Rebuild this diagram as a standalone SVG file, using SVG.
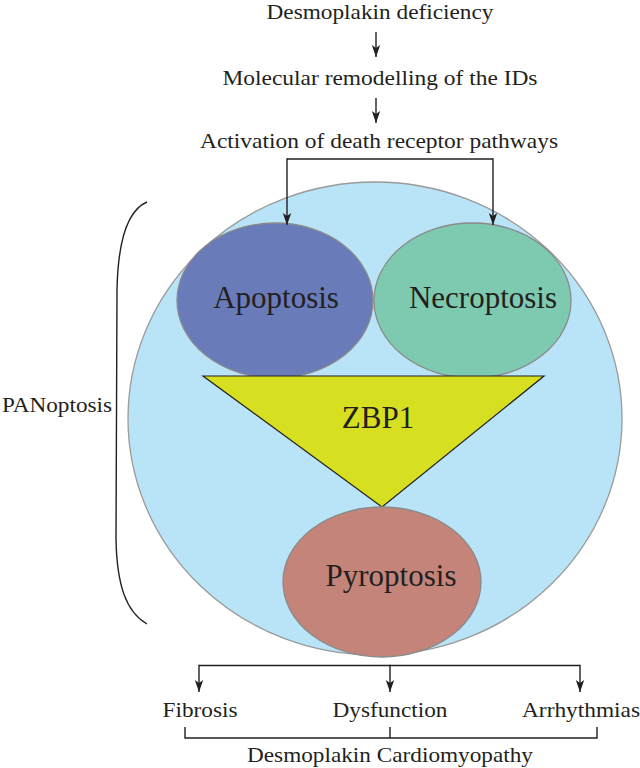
<svg xmlns="http://www.w3.org/2000/svg" width="640" height="768" viewBox="0 0 640 768">
<defs>
<style>
text{font-family:'Liberation Serif','Times New Roman','DejaVu Serif',Times,serif;fill:#231f20;text-anchor:middle}
.s{font-size:22px}
.b{font-size:31px}
.ln{fill:none;stroke:#231f20;stroke-width:1.4}
</style>
<marker id="ah" markerUnits="userSpaceOnUse" markerWidth="14" markerHeight="10" viewBox="-13 -5 14 10" refX="0" refY="0" orient="auto">
<path d="M0,0 L-12,-4.2 L-9,0 L-12,4.2 Z" fill="#231f20"/>
</marker>
</defs>
<rect width="640" height="768" fill="#ffffff"/>

<g id="top-texts">
<text class="s" x="380" y="19" textLength="227" lengthAdjust="spacingAndGlyphs">Desmoplakin deficiency</text>
<text class="s" x="380" y="85" textLength="315" lengthAdjust="spacingAndGlyphs">Molecular remodelling of the IDs</text>
<text class="s" x="379" y="148" textLength="358" lengthAdjust="spacingAndGlyphs">Activation of death receptor pathways</text>
</g>

<g id="panoptosis-bracket">
<path class="ln" d="M147,202 C128,210 118,240 117,290 L116,540 C117,585 126,612 147,624"/>
<text class="s" x="57" y="412" textLength="110" lengthAdjust="spacingAndGlyphs">PANoptosis</text>
</g>

<g id="panoptosis-circle">
<ellipse cx="375" cy="418.5" rx="247" ry="236.5" fill="#b9e4f8" stroke="#9a9a9a" stroke-width="1.3"/>
</g>

<g id="apoptosis">
<ellipse cx="275" cy="300.5" rx="98" ry="77.5" fill="#6a7bba" stroke="#8a8a8a" stroke-width="1.3"/>
<text class="b" x="276" y="308">Apoptosis</text>
</g>

<g id="necroptosis">
<ellipse cx="472.5" cy="300.5" rx="98.5" ry="77.5" fill="#7ecab0" stroke="#8a8a8a" stroke-width="1.3"/>
<text class="b" x="483" y="308">Necroptosis</text>
</g>

<g id="zbp1">
<polygon points="203,376 544,376 382,507" fill="#d6e021" stroke="#231f20" stroke-width="1.2"/>
<text class="b" x="378" y="428">ZBP1</text>
</g>

<g id="pyroptosis">
<ellipse cx="382" cy="582" rx="99" ry="75" fill="#c4847a" stroke="#8a8a8a" stroke-width="1.3"/>
<text class="b" x="391" y="586">Pyroptosis</text>
</g>

<g id="outcomes">
<text class="s" x="200" y="717" textLength="75" lengthAdjust="spacingAndGlyphs">Fibrosis</text>
<text class="s" x="390" y="717" textLength="115" lengthAdjust="spacingAndGlyphs">Dysfunction</text>
<text class="s" x="581" y="717" textLength="118" lengthAdjust="spacingAndGlyphs">Arrhythmias</text>
<text class="s" x="390" y="762" textLength="286" lengthAdjust="spacingAndGlyphs">Desmoplakin Cardiomyopathy</text>
</g>

<g id="connectors">
<line class="ln" x1="376" y1="32" x2="376" y2="57" marker-end="url(#ah)"/>
<line class="ln" x1="376" y1="98" x2="376" y2="123" marker-end="url(#ah)"/>
<line class="ln" x1="287" y1="159" x2="493" y2="159"/>
<line class="ln" x1="287" y1="158.3" x2="287" y2="225" marker-end="url(#ah)"/>
<line class="ln" x1="493" y1="158.3" x2="493" y2="225" marker-end="url(#ah)"/>
<line class="ln" x1="199" y1="665.5" x2="580" y2="665.5"/>
<line class="ln" x1="199" y1="664.8" x2="199" y2="692" marker-end="url(#ah)"/>
<line class="ln" x1="390" y1="664.8" x2="390" y2="692" marker-end="url(#ah)"/>
<line class="ln" x1="580" y1="664.8" x2="580" y2="692" marker-end="url(#ah)"/>
<path class="ln" d="M185,727 L185,738 L597,738 L597,727 M390,727 L390,738"/>
</g>
</svg>
